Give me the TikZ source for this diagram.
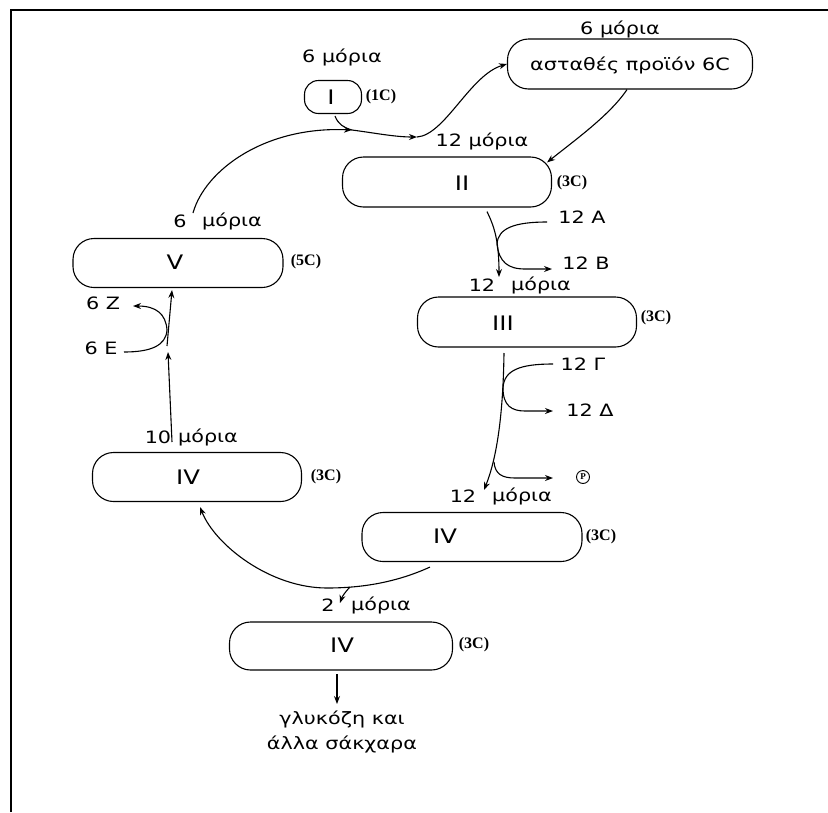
\documentclass[tikz,border=0pt]{standalone}
\usepackage{fontspec}
\setmainfont{DejaVu Sans}[FakeStretch=1.22]
\newfontfamily\cfont{Liberation Serif}
\usetikzlibrary{arrows.meta,calc}
\begin{document}
\begin{tikzpicture}[x=1pt,y=-1pt,
  stage/.style={draw, line width=1.1pt, rounded corners=21pt, minimum height=50pt, inner sep=0pt},
  txt/.style={font=\fontsize{17}{20}\selectfont, inner sep=0pt},
  roman/.style={font=\fontsize{20}{24}\selectfont, inner sep=0pt},
  cnum/.style={font=\cfont\bfseries\fontsize{16}{18}\selectfont, inner sep=0pt},
  link/.style={line width=1.1pt},
  flow/.style={link, -{Stealth[length=8pt,width=6pt]}}]

\useasboundingbox (0,0) rectangle (828,812);
% frame
\draw[line width=1.8pt] (11,812) -- (11,10) -- (828,10);

% unstable 6C product
\node[stage, minimum width=245pt] (prod) at (630,64) {};
\node[txt] (prodt) at (630,65) {ασταθές προϊόν 6C};
\node[txt] (prodn) at (620,29) {6 μόρια};

% stage I
\node[stage, minimum width=57pt, minimum height=33pt, rounded corners=14pt] (s1) at (333,97) {};
\node[roman] (s1t) at (331,97) {I};
\node[cnum] (s1c) at (381,97) {(1C)};
\node[txt] (s1n) at (342,57) {6 μόρια};

% stage II
\node[stage, minimum width=209pt] (s2) at (447,182) {};
\node[roman] (s2t) at (462,183) {II};
\node[cnum] (s2c) at (572,183) {(3C)};
\node[txt] (s2n) at (482,141) {12 μόρια};

% stage III
\node[stage, minimum width=219pt] (s3) at (527,322) {};
\node[roman] (s3t) at (503,323) {III};
\node[cnum] (s3c) at (656,318) {(3C)};
\node[txt] (s3na) at (482,285) {12};
\node[txt] (s3nb) at (541,285) {μόρια};

% stage IV (right)
\node[stage, minimum width=220pt, minimum height=49pt] (s4) at (472,537) {};
\node[roman] (s4t) at (445,536) {IV};
\node[cnum] (s4c) at (601,537) {(3C)};
\node[txt] (s4na) at (463,496) {12};
\node[txt] (s4nb) at (522,496) {μόρια};

% stage IV (left)
\node[stage, minimum width=209pt, minimum height=49pt] (s6) at (197,477) {};
\node[roman] (s6t) at (188,477) {IV};
\node[cnum] (s6c) at (326,477) {(3C)};
\node[txt] (s6na) at (158,437) {10};
\node[txt] (s6nb) at (208,437) {μόρια};

% stage V
\node[stage, minimum width=210pt, minimum height=49pt] (s7) at (178,263) {};
\node[roman] (s7t) at (175,262) {V};
\node[cnum] (s7c) at (306,262) {(5C)};
\node[txt] (s7na) at (180,221) {6};
\node[txt] (s7nb) at (232,221) {μόρια};

% stage IV (bottom)
\node[stage, minimum width=223pt, minimum height=48pt] (s5) at (341,646) {};
\node[roman] (s5t) at (342,645) {IV};
\node[cnum] (s5c) at (474,645) {(3C)};
\node[txt] (s5na) at (328,605) {2};
\node[txt] (s5nb) at (381,605) {μόρια};

\node[txt, font=\fontsize{17}{25}\selectfont, align=center] (sug) at (342,732) {γλυκόζη και\\άλλα σάκχαρα};

% side inputs / outputs
\node[txt] (nA) at (582,217) {12 A};
\node[txt] (nB) at (586,263) {12 B};
\node[txt] (nG) at (583,364) {12 Γ};
\node[txt] (nD) at (590,410) {12 Δ};
\node[txt] (nZ) at (103,303) {6 Z};
\node[txt] (nE) at (101,348) {6 E};
\node[circle, draw, line width=0.9pt, minimum size=13pt, inner sep=0pt,
      font=\cfont\bfseries\fontsize{9}{9}\selectfont] (pp) at (583,477) {P};

% junction points
\coordinate (vtop) at (193,213);
\coordinate (j1) at (352,130);
\coordinate (j2) at (417,137);
\coordinate (aIn) at (547,222);
\coordinate (aJ) at (497,244);
\coordinate (bOut) at (552,269);
\coordinate (s3in) at (499,277);
\coordinate (s3out) at (504,353);
\coordinate (gIn) at (553,364);
\coordinate (gJ) at (503,388);
\coordinate (dOut) at (553,411);
\coordinate (pJ) at (494,462);
\coordinate (pOut) at (553,478);
\coordinate (s4in) at (484,490);
\coordinate (cJ) at (350,587);
\coordinate (s5in) at (340,603);
\coordinate (s5out) at (337,674);
\coordinate (sugIn) at (337,704);
\coordinate (s6top) at (172,442);
\coordinate (mJ) at (168,352);
\coordinate (mK) at (167,346);
\coordinate (eJ) at (167,330);

% carbon fixation
\draw[flow] (vtop) .. controls (205,170) and (265,126) .. (j1);
\draw[link] ($(s1.south)+(2,2)$) .. controls (338,124) and (344,128) .. (j1);
\draw[flow] (j1) .. controls (375,133) and (395,137) .. (j2);
\draw[flow] (j2) .. controls (445,135) and (470,75) .. (prod.west);
\draw[flow] ($(prod.south)+(-3,0)$) .. controls (610,115) and (575,140) .. ($(s2.north east)+(-5,6)$);

% reduction
\draw[flow] ($(s2.south)+(40,4)$) .. controls (494,226) and (499,240) .. (s3in);
\draw[link] (aIn) .. controls (515,222) and (498,228) .. (aJ);
\draw[flow] (aJ) .. controls (499,262) and (508,269) .. (525,269) -- (bOut);

\draw[flow] (s3out) .. controls (503,420) and (496,460) .. (s4in);
\draw[link] (gIn) .. controls (520,364) and (504,370) .. (gJ);
\draw[flow] (gJ) .. controls (503,406) and (512,411) .. (525,411) -- (dOut);
\draw[flow] (pJ) .. controls (495,474) and (502,478) .. (515,478) -- (pOut);

% split towards regeneration and sugars
\draw[flow] ($(s4.south)+(-42,5)$) .. controls (395,583) and (360,588) .. (327,588)
   .. controls (270,588) and (215,545) .. ($(s6.south)+(3,5)$);
\draw[flow] (cJ) .. controls (345,592) and (342,597) .. (s5in);
\draw[flow] (s5out) -- (sugIn);

% regeneration
\draw[flow] (s6top) -- (mJ);
\draw[flow] (mK) -- ($(s7.south)+(-6,2)$);
\draw[link] (124,352) .. controls (150,352) and (166,346) .. (eJ);
\draw[flow] (eJ) .. controls (166,314) and (156,306) .. (133,306);
\end{tikzpicture}
\end{document}
